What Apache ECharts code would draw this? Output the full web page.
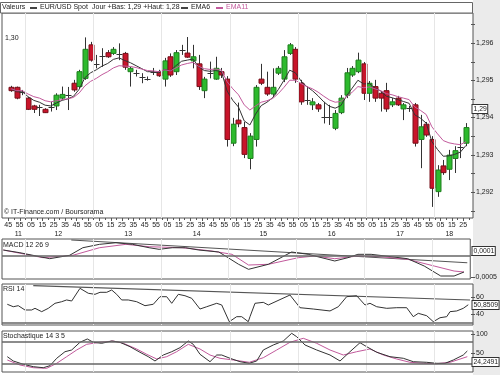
<!DOCTYPE html>
<html><head><meta charset="utf-8">
<script src="https://cdn.jsdelivr.net/npm/echarts@6/dist/echarts.min.js"></script>
<style>html,body{margin:0;padding:0;background:#fff}#c{width:500px;height:375px}</style>
</head><body><div id="c"></div>
<script>
// ---------- DATA (5-minute candles 11:45 .. 18:25, EUR/USD) ----------
const openP = [1.29481,1.29481,1.29470,1.29452,1.29431,1.29428,1.29422,1.29427,1.29431,1.29452,
 1.29460,1.29492,1.29483,1.29505,1.29595,1.29545,1.29565,1.29574,1.29572,1.29570,
 1.29572,1.29523,1.29519,1.29510,1.29503,1.29523,1.29523,1.29503,1.29563,1.29523,
 1.29580,1.29573,1.29552,1.29544,1.29472,1.29519,1.29503,1.29523,1.29503,1.29331,
 1.29393,1.29373,1.29290,1.29341,1.29503,1.29481,1.29463,1.29519,1.29503,1.29572,
 1.29583,1.29492,1.29447,1.29434,1.29434,1.29402,1.29401,1.29371,1.29413,1.29460,
 1.29514,1.29523,1.29544,1.29465,1.29483,1.29465,1.29472,1.29434,1.29452,1.29423,
 1.29425,1.29434,1.29341,1.29382,1.29341,1.29201,1.29270,1.29261,1.29290,1.29318,
 1.29331];
const closeP = [1.29472,1.29452,1.29469,1.29422,1.29422,1.29427,1.29413,1.29428,1.29460,1.29462,
 1.29462,1.29474,1.29523,1.29583,1.29554,1.29544,1.29566,1.29563,1.29583,1.29569,
 1.29535,1.29532,1.29518,1.29509,1.29504,1.29522,1.29512,1.29552,1.29514,1.29574,
 1.29581,1.29562,1.29563,1.29483,1.29503,1.29518,1.29532,1.29514,1.29341,1.29382,
 1.29383,1.29301,1.29350,1.29481,1.29492,1.29463,1.29481,1.29532,1.29563,1.29595,
 1.29503,1.29442,1.29446,1.29442,1.29423,1.29401,1.29400,1.29411,1.29452,1.29520,
 1.29532,1.29554,1.29465,1.29492,1.29452,1.29452,1.29423,1.29442,1.29434,1.29434,
 1.29424,1.29331,1.29375,1.29353,1.29210,1.29259,1.29252,1.29299,1.29311,1.29321,
 1.29373];
const lowP = [1.29469,1.29449,1.29460,1.29420,1.29412,1.29404,1.29412,1.29416,1.29420,1.29447,
 1.29420,1.29469,1.29479,1.29501,1.29550,1.29532,1.29536,1.29560,1.29568,1.29554,
 1.29528,1.29483,1.29510,1.29492,1.29499,1.29514,1.29509,1.29483,1.29509,1.29514,
 1.29568,1.29560,1.29532,1.29474,1.29452,1.29505,1.29501,1.29506,1.29322,1.29323,
 1.29374,1.29291,1.29261,1.29322,1.29487,1.29458,1.29458,1.29514,1.29495,1.29568,
 1.29493,1.29434,1.29434,1.29420,1.29415,1.29384,1.29380,1.29366,1.29409,1.29452,
 1.29509,1.29519,1.29447,1.29442,1.29442,1.29416,1.29415,1.29428,1.29431,1.29393,
 1.29415,1.29322,1.29264,1.29348,1.29160,1.29187,1.29246,1.29232,1.29251,1.29291,
 1.29323];
const highP = [1.29485,1.29483,1.29474,1.29455,1.29434,1.29434,1.29425,1.29442,1.29465,1.29483,
 1.29482,1.29501,1.29528,1.29615,1.29603,1.29568,1.29586,1.29581,1.29589,1.29599,
 1.29576,1.29536,1.29528,1.29519,1.29510,1.29533,1.29528,1.29560,1.29572,1.29581,
 1.29595,1.29616,1.29595,1.29568,1.29509,1.29550,1.29563,1.29533,1.29511,1.29399,
 1.29440,1.29388,1.29358,1.29487,1.29544,1.29523,1.29532,1.29538,1.29581,1.29600,
 1.29589,1.29501,1.29483,1.29452,1.29439,1.29442,1.29434,1.29420,1.29460,1.29533,
 1.29538,1.29574,1.29549,1.29498,1.29501,1.29471,1.29493,1.29452,1.29458,1.29439,
 1.29431,1.29439,1.29407,1.29388,1.29350,1.29272,1.29286,1.29313,1.29323,1.29348,
 1.29385];
const ema6 = [1.29477,1.29469,1.29469,1.29456,1.29446,1.29441,1.29433,1.29431,1.29439,1.29446,
 1.29450,1.29457,1.29476,1.29507,1.29520,1.29528,1.29538,1.29545,1.29556,1.29560,
 1.29553,1.29547,1.29539,1.29531,1.29523,1.29523,1.29520,1.29529,1.29525,1.29539,
 1.29551,1.29554,1.29557,1.29536,1.29526,1.29524,1.29526,1.29523,1.29471,1.29446,
 1.29428,1.29391,1.29380,1.29409,1.29432,1.29441,1.29453,1.29475,1.29500,1.29527,
 1.29520,1.29498,1.29483,1.29472,1.29458,1.29442,1.29430,1.29425,1.29432,1.29458,
 1.29479,1.29500,1.29490,1.29491,1.29479,1.29471,1.29457,1.29453,1.29448,1.29443,
 1.29438,1.29407,1.29398,1.29385,1.29335,1.29314,1.29296,1.29297,1.29301,1.29307,
 1.29325];
const ema11 = [1.29477,1.29472,1.29472,1.29463,1.29456,1.29452,1.29445,1.29442,1.29445,1.29448,
 1.29450,1.29454,1.29466,1.29485,1.29497,1.29505,1.29515,1.29523,1.29533,1.29539,
 1.29538,1.29537,1.29534,1.29530,1.29526,1.29525,1.29523,1.29528,1.29525,1.29533,
 1.29541,1.29545,1.29548,1.29537,1.29531,1.29529,1.29530,1.29527,1.29496,1.29477,
 1.29461,1.29434,1.29420,1.29431,1.29441,1.29445,1.29451,1.29464,1.29481,1.29500,
 1.29500,1.29491,1.29483,1.29477,1.29468,1.29457,1.29447,1.29441,1.29443,1.29456,
 1.29468,1.29483,1.29480,1.29482,1.29477,1.29472,1.29464,1.29461,1.29456,1.29452,
 1.29448,1.29428,1.29419,1.29408,1.29375,1.29356,1.29338,1.29332,1.29329,1.29327,
 1.29335];
// indicator curves: [candle position, value]
const macdLine = [[-1.35,0.000122],[1.58,0.00006],[5.10,-0.000032],[6.86,-0.000078],[10.37,0],[12.71,0.000175],
 [15.65,0.000253],[18.58,0.00029],[21.5,0.000253],[24.44,0.000175],[26.2,0.000138],[28.54,0.000175],[30.89,0.000175],
 [33.23,0.000122],[36.75,0.000076],[37.93,-0.000016],[40.26,-0.000207],[42.02,-0.000323],[45.54,-0.000207],
 [49.63,0.000076],[52.57,0.000023],[57.27,-0.000131],[59.6,-0.000055],[61.36,0.000023],[63.7,0.000023],
 [67.22,-0.000032],[70.15,-0.000078],[73.09,-0.000247],[76.01,-0.000477],[78.37,-0.000477],[80.12,-0.000385]];
const macdSignal = [[-1.35,0.000122],[5.68,-0.000055],[10.95,0],[15.65,0.000175],[20.34,0.000253],[24.44,0.000198],
 [30.29,0.000175],[35.57,0.000099],[39.09,0.000023],[42.02,-0.000224],[45.54,-0.000207],[50.81,-0.000055],
 [53.75,-0.000016],[57.27,-0.000078],[61.36,-0.000016],[65.46,-0.000032],[70.15,-0.000092],[74.85,-0.000247],
 [78.37,-0.000362],[80.12,-0.000385]];
const macdTrend = [[10.67,0.000353],[80.7,-0.000171]];
const rsiLine = [[-0.65,51.4],[0.40,48.6],[1.28,49.8],[2.46,44.9],[3.64,44.9],[4.22,46.8],[5.40,43],[6.56,46.8],
 [7.74,52.5],[8.91,54.3],[9.79,56.3],[10.67,55.1],[12.13,69.5],[13.59,63.9],[14.77,62.7],[15.65,65],[16.83,65],
 [17.71,67.6],[18.58,62.7],[19.46,56.3],[20.62,56.3],[22.1,54.3],[23.56,49.8],[25.02,51.4],[26.2,60],[27.38,60],
 [28.26,52.5],[29.42,62.7],[30.59,61.1],[31.77,58.2],[33.23,46],[34.41,48.6],[36.17,52.5],[37.05,50.6],[38.38,31.6],
 [39.68,37.3],[40.56,37.3],[41.72,31.6],[42.02,37.3],[42.9,52.5],[44.36,53.6],[45.24,50.6],[49.05,61.9],[50.81,47.5],
 [53.15,46],[56.09,43.8],[57.55,48.6],[59.02,60],[60.78,61.1],[62.24,50.6],[63.12,52.5],[64.3,48.6],[66.06,46.8],
 [67.82,47.5],[69.57,47.5],[70.73,37.3],[71.61,41.1],[73.09,38.4],[74.25,31.6],[75.43,36.1],[76.61,37.3],[77.19,43],
 [78.37,43.8],[79.52,46.8],[80.4,50.85]];
const rsiTrend = [[3.92,72.5],[80.7,56.25]];
const stochK = [[-0.65,39.5],[0.4,28.2],[2.16,19.5],[3.92,13.2],[5.68,10.5],[6.86,15.8],[8.04,35.3],[9.49,52.6],
 [10.67,57.1],[12.13,77.4],[13.42,86.1],[14.47,77.4],[15.95,74.7],[17.71,80.8],[19.16,77.4],[20.92,65.8],[22.68,51.1],
 [24.14,39.5],[25.32,28.2],[26.78,43.9],[28.26,52.6],[29.71,63.2],[31.17,80.8],[32.05,72.1],[33.23,45.8],[34.99,26.3],
 [36.17,43.9],[37.05,43.9],[38.51,35.3],[40.26,26.3],[41.9,22.1],[43.2,28.2],[44.36,57.1],[46.12,70.3],[47.88,80.8],
 [49.35,101],[50.23,92.1],[51.69,70.3],[53.75,57.1],[56.09,43.9],[57.85,28.2],[59.6,52.6],[61.36,76.3],[62.54,65.8],
 [64.3,51.1],[66.64,39.5],[68.98,35.3],[70.73,26.3],[73.09,24.7],[74.85,22.1],[76.31,22.1],[77.77,30.8],[79.52,43.9],
 [80.23,54.5]];
const stochD = [[-0.65,30.8],[1.58,17.6],[3.92,10.5],[6.28,8.9],[8.04,22.1],[9.79,39.5],[11.55,57.1],[13.31,72.1],
 [15.65,77.4],[17.99,80.8],[19.75,74.7],[22.1,59.7],[23.86,45.8],[25.62,33.4],[27.38,39.5],[29.13,52.6],[31.17,72.1],
 [33.23,59.7],[34.99,43.9],[36.75,35.3],[39.09,30.8],[41.9,24.7],[44.36,36.8],[46.72,57.1],[49.05,77.4],[51.39,87.9],
 [53.75,74.7],[56.09,57.1],[58.43,43.9],[60.78,52.6],[63.12,59.7],[65.46,43.9],[67.82,33.4],[70.15,24.7],[72.49,22.1],
 [74.85,21.1],[77.19,24.7],[80.23,39.5]];
// tick labels
const minuteLabels = ['45','55','05','15','25','35'];
const hourLabels = ['11','12','13','14','15','16','17','18'];
const hourLabelPos = [1.28,8.32,20.62,32.65,44.36,56.39,68.4,77.06];
const hourLinePos = [2.5,14.5,26.5,38.5,50.5,62.5,74.5];
const priceLabels = [1.292,1.293,1.294,1.295,1.296];
const priceTicks = [1.2915,1.292,1.2925,1.293,1.2935,1.294,1.2945,1.295,1.2955,1.296,1.2965];
const macdLabels = [{value:-0.0005,text:'-0,0005'}];
const macdTicks = [0, -0.0005];
const rsiLabels = [{value:60,text:'60'},{value:40,text:'40'}];
const rsiTicks = [60, 40];
const stochLabels = [{value:100,text:'100'},{value:50,text:'50'}];
const stochTicks = [100, 50];
// boxed "last value" labels: [axis index, value, text]
const boxLabels = [[0,1.29423,'1,29'],[1,0.0001,'0,0001'],[2,50.85,'50,8509'],[3,24.25,'24,2491']];

// ---------- CHART ----------
const XMIN = -1.58, XMAX = 81.23;
const FONT = 'Liberation Sans, Arial, sans-serif';
const TXT = '#222';
const minuteTickPos = []; for (let k = 0; k <= 81; k++) minuteTickPos.push(-0.5 + k);
const minuteLabelPos = []; for (let k = 0; k <= 40; k++) minuteLabelPos.push(-0.5 + 2 * k);

const chart = echarts.init(document.getElementById('c'), null, {renderer:'canvas'});

function gridDef(top, height){ return {left:2, right:27, top:top, height:height, show:true, borderColor:'#555', borderWidth:1, backgroundColor:'#fff', containLabel:false}; }
function hiddenX(gi){ return {type:'value', gridIndex:gi, min:XMIN, max:XMAX, show:false}; }
function labelAxis(gi, min, max, labels){
  return {type:'value', gridIndex:gi, position:'right', min:min, max:max, splitLine:{show:false},
    axisLine:{show:false}, axisTick:{show:false},
    axisLabel:{customValues:labels.map(l=>l.value), hideOverlap:false, showMinLabel:true, showMaxLabel:true,
      margin:3, fontSize:7, fontFamily:FONT, color:TXT,
      formatter:v=>{const l=labels.find(o=>Math.abs(o.value-v)<1e-9); return l?l.text:'';}}
  };
}
const vLines = hourLinePos.map(v=>({xAxis:v}));
const faint = {color:'#e6e6e6', width:1, type:'solid'};
const darkLine = {color:'#666', width:1.5, type:'solid'};

function candleRender(params, api){
  const i = api.value(0), o = api.value(1), c = api.value(2), l = api.value(3), h = api.value(4);
  const po = api.coord([i,o]), pc = api.coord([i,c]), pl = api.coord([i,l]), ph = api.coord([i,h]);
  const w = Math.round(api.size([1,0])[0]*0.8);
  const x = Math.round(po[0]) + 0.5;
  const top = Math.min(po[1],pc[1]), bot = Math.max(po[1],pc[1]);
  const up = c >= o;
  const ch = [{type:'line', shape:{x1:x,y1:ph[1],x2:x,y2:pl[1]}, style:{stroke:'#333',lineWidth:1}}];
  if (bot-top < 1.6) ch.push({type:'line', shape:{x1:x-w/2-0.5,y1:Math.round((top+bot)/2)+0.5,x2:x+w/2+0.5,y2:Math.round((top+bot)/2)+0.5}, style:{stroke:'#333',lineWidth:1}});
  else ch.push({type:'rect', shape:{x:x-w/2,y:top,width:w,height:bot-top}, style:{fill:up?'#2dba2d':'#c8142a', stroke:up?'#1f7f1f':'#76101a', lineWidth:1}});
  return {type:'group', children:ch};
}

const baseGraphic = [
  {type:'rect', z:-10, shape:{x:473, y:0, width:27, height:375}, style:{fill:'#ebebeb'}},
  {type:'rect', z:5, shape:{x:0.5, y:2.5, width:472, height:10.5}, style:{fill:'#fff', stroke:'#666', lineWidth:1}},
  {type:'text', z:6, x:2, y:4, style:{text:'Valeurs', font:'7px '+FONT, fill:TXT}},
  {type:'line', z:6, shape:{x1:30, y1:8, x2:37, y2:8}, style:{stroke:'#444', lineWidth:2}},
  {type:'text', z:6, x:40, y:4, style:{text:'EUR/USD Spot', font:'7px '+FONT, fill:TXT}},
  {type:'text', z:6, x:92, y:4, style:{text:'Jour +Bas: 1,29 +Haut: 1,28', font:'7px '+FONT, fill:TXT}},
  {type:'line', z:6, shape:{x1:181, y1:8, x2:188, y2:8}, style:{stroke:'#444', lineWidth:2}},
  {type:'text', z:6, x:191, y:4, style:{text:'EMA6', font:'7px '+FONT, fill:TXT}},
  {type:'line', z:6, shape:{x1:216, y1:8, x2:223, y2:8}, style:{stroke:'#c25a9c', lineWidth:2}},
  {type:'text', z:6, x:226, y:4, style:{text:'EMA11', font:'7px '+FONT, fill:'#c25a9c'}},
  {type:'text', z:6, x:5, y:35, style:{text:'1,30', font:'7px '+FONT, fill:TXT}},
  {type:'text', z:6, x:4, y:209, style:{text:'© IT-Finance.com / Boursorama', font:'7px '+FONT, fill:TXT}},
  {type:'text', z:6, x:3, y:242, style:{text:'MACD 12 26 9', font:'7px '+FONT, fill:TXT}},
  {type:'text', z:6, x:3, y:286, style:{text:'RSI 14', font:'7px '+FONT, fill:TXT}},
  {type:'text', z:6, x:3, y:333, style:{text:'Stochastique 14 3 5', font:'7px '+FONT, fill:TXT}}
];

const option = {
  animation:false,
  backgroundColor:'#fff',
  textStyle:{fontFamily:FONT},
  grid:[gridDef(13,205), gridDef(239,40), gridDef(284,41), gridDef(331,41)],
  xAxis:[
    {type:'value', gridIndex:0, min:XMIN, max:XMAX, position:'bottom', splitLine:{show:false},
      axisLine:{show:false}, axisTick:{show:false},
      axisLabel:{customValues:minuteLabelPos, hideOverlap:false, showMinLabel:true, showMaxLabel:true, margin:4, fontSize:7, fontFamily:FONT, color:TXT,
        formatter:v=>minuteLabels[Math.round((v+0.5)/2)%6]}},
    {type:'value', gridIndex:0, min:XMIN, max:XMAX, position:'bottom', offset:10, splitLine:{show:false},
      axisLine:{show:false}, axisTick:{show:false},
      axisLabel:{customValues:hourLabelPos, hideOverlap:false, showMinLabel:true, showMaxLabel:true, margin:3, fontSize:7, fontFamily:FONT, color:TXT,
        formatter:v=>{const k=hourLabelPos.findIndex(p=>Math.abs(p-v)<1e-6); return k<0?'':hourLabels[k];}}},
    hiddenX(1), hiddenX(2), hiddenX(3)
  ],
  yAxis:[
    labelAxis(0, 1.291302, 1.296805, priceLabels.map(v=>({value:v,text:v.toFixed(3).replace('.',',')}))),
    labelAxis(1, -0.000546, 0.000376, macdLabels),
    labelAxis(2, 27.84, 74.43, rsiLabels),
    labelAxis(3, -0.8, 107.1, stochLabels)
  ],
  series:[
    {type:'line', name:'grid-main', xAxisIndex:0, yAxisIndex:0, z:1, data:ema6.map((v,i)=>[i,v]), symbol:'none', showSymbol:false, lineStyle:{opacity:0}, silent:true,
      markLine:{silent:true, symbol:['none','none'], label:{show:false}, animation:false,
        data:vLines.map(d=>Object.assign({lineStyle:faint},d))
          .concat([1.292,1.293,1.294,1.295].map(v=>({yAxis:v, lineStyle:faint})))
          .concat([{yAxis:1.296, lineStyle:{color:'#777', width:1.5, type:'solid'}}])}},
    {type:'custom', name:'EUR/USD Spot', xAxisIndex:0, yAxisIndex:0, z:3, clip:true,
      data:openP.map((o,i)=>[i,o,closeP[i],lowP[i],highP[i]]),
      encode:{x:0, y:[1,2,3,4]}, renderItem:candleRender},
    {type:'line', name:'EMA6', xAxisIndex:0, yAxisIndex:0, z:4, data:ema6.map((v,i)=>[i,v]), symbol:'none', showSymbol:false, lineStyle:{color:'#333', width:1}},
    {type:'line', name:'EMA11', xAxisIndex:0, yAxisIndex:0, z:4, data:ema11.map((v,i)=>[i,v]), symbol:'none', showSymbol:false, lineStyle:{color:'#c25a9c', width:1}},
    {type:'line', name:'MACD trend', xAxisIndex:2, yAxisIndex:1, z:2, data:macdTrend, symbol:'none', lineStyle:{color:'#555', width:1.2},
      markLine:{silent:true, symbol:['none','none'], label:{show:false}, data:vLines.map(d=>Object.assign({lineStyle:faint},d)).concat([{yAxis:0, lineStyle:darkLine}])}},
    {type:'line', name:'Signal', xAxisIndex:2, yAxisIndex:1, z:3, data:macdSignal, symbol:'none', lineStyle:{color:'#c25a9c', width:1}},
    {type:'line', name:'MACD', xAxisIndex:2, yAxisIndex:1, z:4, data:macdLine, symbol:'none', lineStyle:{color:'#333', width:1}},
    {type:'line', name:'RSI trend', xAxisIndex:3, yAxisIndex:2, z:2, data:rsiTrend, symbol:'none', lineStyle:{color:'#555', width:1.2},
      markLine:{silent:true, symbol:['none','none'], label:{show:false}, data:vLines.map(d=>Object.assign({lineStyle:faint},d)).concat([{yAxis:30, lineStyle:darkLine}])}},
    {type:'line', name:'RSI', xAxisIndex:3, yAxisIndex:2, z:4, data:rsiLine, symbol:'none', lineStyle:{color:'#333', width:1}},
    {type:'line', name:'%D', xAxisIndex:4, yAxisIndex:3, z:3, data:stochD, symbol:'none', lineStyle:{color:'#c25a9c', width:1},
      markLine:{silent:true, symbol:['none','none'], label:{show:false}, data:vLines.map(d=>Object.assign({lineStyle:faint},d)).concat([{yAxis:80, lineStyle:darkLine},{yAxis:20, lineStyle:darkLine}])}},
    {type:'line', name:'%K', xAxisIndex:4, yAxisIndex:3, z:4, data:stochK, symbol:'none', lineStyle:{color:'#333', width:1}}
  ],
  graphic: baseGraphic
};
chart.setOption(option);

// tick marks and boxed value labels derived from the axis scales
const extra = [];
const xRight = Math.round(chart.convertToPixel({xAxisIndex:0}, XMAX));
function yTicks(axisIdx, values){
  values.forEach(v=>{
    const y = Math.round(chart.convertToPixel({yAxisIndex:axisIdx}, v)) + 0.5;
    extra.push({type:'line', z:6, shape:{x1:xRight-2, y1:y, x2:xRight+2, y2:y}, style:{stroke:'#555', lineWidth:1}});
  });
}
yTicks(0, priceTicks); yTicks(1, macdTicks); yTicks(2, rsiTicks); yTicks(3, stochTicks);
const yBottom = Math.round(chart.convertToPixel({yAxisIndex:0}, 1.291302));
minuteTickPos.forEach((v,k)=>{
  const x = Math.round(chart.convertToPixel({xAxisIndex:0}, v)) + 0.5;
  extra.push({type:'line', z:6, shape:{x1:x, y1:yBottom, x2:x, y2:yBottom + (k%2===0?3:2)}, style:{stroke:'#555', lineWidth:1}});
});
boxLabels.forEach(b=>{
  const y = Math.round(chart.convertToPixel({yAxisIndex:b[0]}, b[1]));
  extra.push({type:'text', z:7, x:xRight - 0.5, y:y, style:{text:b[2], font:'6.8px '+FONT, fill:TXT, align:'left', verticalAlign:'middle',
    backgroundColor:'#fff', borderColor:'#333', borderWidth:1, padding:[1,0.5,0,1]}});
});
chart.setOption({graphic: baseGraphic.concat(extra)});
</script>
</body></html>
